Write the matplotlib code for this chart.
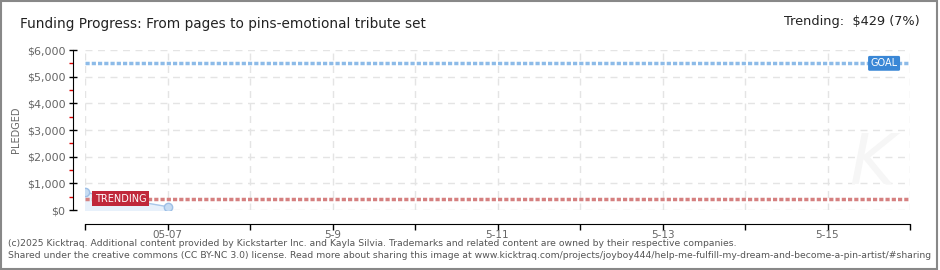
import matplotlib
matplotlib.use("Agg")
import matplotlib.pyplot as plt
import matplotlib.dates as mdates
from matplotlib.ticker import FuncFormatter, MultipleLocator
import datetime as dt

# ---- data ----
dates = [dt.date(2025, 5, 6), dt.date(2025, 5, 7)]
pledged = [660, 125]
goal = 5500
trending = 429
trending_pct = 7
x_start = dt.date(2025, 5, 6)
x_end = dt.date(2025, 5, 16)
x_tick_labels = {dt.date(2025, 5, 7): "05-07", dt.date(2025, 5, 9): "5-9",
                 dt.date(2025, 5, 11): "5-11", dt.date(2025, 5, 13): "5-13",
                 dt.date(2025, 5, 15): "5-15"}
title = "Funding Progress: From pages to pins-emotional tribute set"
footer1 = "(c)2025 Kicktraq. Additional content provided by Kickstarter Inc. and Kayla Silvia. Trademarks and related content are owned by their respective companies."
footer2 = "Shared under the creative commons (CC BY-NC 3.0) license. Read more about sharing this image at www.kicktraq.com/projects/joyboy444/help-me-fulfill-my-dream-and-become-a-pin-artist/#sharing"

fig = plt.figure(figsize=(9.4, 2.7), dpi=100)
fig.patch.set_facecolor("white")
ax = fig.add_axes([85/940, 1-210/270, 825/940, 160/270])

# grid
ax.set_ylim(0, 6000)
ax.set_xlim(mdates.date2num(x_start), mdates.date2num(x_end))
ax.yaxis.set_major_locator(MultipleLocator(1000))
ax.yaxis.set_minor_locator(MultipleLocator(500))
ax.xaxis.set_major_locator(mdates.DayLocator())
ax.grid(True, which="major", color="#e4e4e4", linestyle=(0, (5, 4)), linewidth=1)
ax.set_axisbelow(True)

# goal & trending lines
ax.axhline(goal, color="#8dbbe8", linewidth=2.5, linestyle=(0, (1.2, 0.6)), zorder=2)
ax.axhline(trending, color="#d58080", linewidth=2.5, linestyle=(0, (1.2, 0.6)), zorder=2)

# pledged
xd = mdates.date2num(dates)
ax.fill_between(xd, pledged, 0, color="#e8f1fb", zorder=1)
ax.plot(xd, pledged, color="#a9c8ea", linewidth=1, zorder=3)
ax.plot(xd, pledged, "o", markersize=6, markerfacecolor="#c6dcf3",
        markeredgecolor="#9dbfe6", markeredgewidth=1, zorder=4)

# labels on lines
ax.text(0.985, goal, "GOAL", transform=ax.get_yaxis_transform(), ha="right", va="center",
        fontsize=7, color="white", zorder=5,
        bbox=dict(boxstyle="round,pad=0.25,rounding_size=0.15", fc="#3a87d6", ec="none"))
ax.text(mdates.date2num(x_start) + 0.12, trending, "TRENDING", ha="left", va="center",
        fontsize=7, color="white", zorder=5,
        bbox=dict(boxstyle="square,pad=0.3", fc="#c0283a", ec="none"))

# spines
for s in ["top", "right"]:
    ax.spines[s].set_visible(False)
ax.spines["left"].set_position(("outward", 9))
ax.spines["bottom"].set_position(("outward", 10))
ax.spines["left"].set_color("black")
ax.spines["bottom"].set_color("black")

ax.yaxis.set_major_formatter(FuncFormatter(lambda v, p: "$" + format(int(v), ",")))
ax.tick_params(axis="y", which="major", direction="inout", length=6, width=1,
               labelsize=8, labelcolor="#666666", pad=2)
ax.tick_params(axis="y", which="minor", direction="out", length=3, width=1, color="#dd0000")
ax.xaxis.set_major_locator(mdates.DayLocator())
ax.xaxis.set_major_formatter(FuncFormatter(
    lambda v, p: x_tick_labels.get(mdates.num2date(v).date(), "")))
ax.tick_params(axis="x", direction="out", length=4, width=1, labelsize=7.5,
               labelcolor="#666666", pad=0.5)
ax.set_ylabel("PLEDGED", fontsize=7, color="#666666", labelpad=4)

# watermark
fig.text(872/940, 1-165/270, "K", fontsize=50, color="#f6f6f6", style="italic",
         ha="center", va="center", zorder=0)

# title and trending text
fig.text(20/940, 1-24/270, title, fontsize=9.8, color="#222222", ha="left", va="center")
fig.text(920/940, 1-22/270, f"Trending:  ${trending} ({trending_pct}%)", fontsize=9.3,
         color="#222222", ha="right", va="center")

# footer
fig.text(8/940, 1-243/270, footer1, fontsize=6.7, color="#555555", ha="left", va="center")
fig.text(8/940, 1-256/270, footer2, fontsize=6.7, color="#555555", ha="left", va="center")

# outer border
border = plt.Rectangle((0.001, 0.002), 0.996, 0.996, transform=fig.transFigure,
                       fill=False, ec="#888888", lw=1.5)
fig.add_artist(border)

fig.savefig("out.png", dpi=100)
